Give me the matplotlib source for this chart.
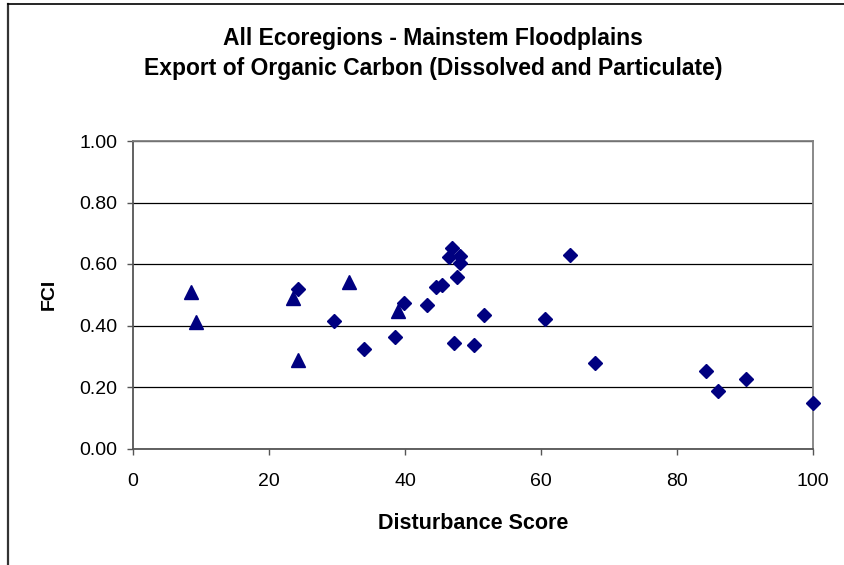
import matplotlib.pyplot as plt
from matplotlib.lines import Line2D

# Disturbance score vs FCI
diamond_x = [24.2, 29.5, 33.9, 38.6, 39.8, 43.3, 44.5, 45.4, 46.9, 46.5, 48.1, 48.1,
             47.7, 47.2, 50.1, 51.6, 60.6, 64.2, 67.9, 84.2, 86.0, 90.1, 100.0]
diamond_y = [0.518, 0.415, 0.324, 0.363, 0.474, 0.466, 0.524, 0.532, 0.651, 0.622, 0.626, 0.602,
             0.557, 0.342, 0.336, 0.433, 0.420, 0.629, 0.279, 0.252, 0.187, 0.226, 0.147]
triangle_x = [8.6, 9.2, 23.6, 31.8, 24.2, 38.9]
triangle_y = [0.510, 0.412, 0.488, 0.542, 0.288, 0.447]

x_ticks = [0, 20, 40, 60, 80, 100]
y_ticks = [0.0, 0.2, 0.4, 0.6, 0.8, 1.0]

title_lines = ["All Ecoregions - Mainstem Floodplains",
               "Export of Organic Carbon (Dissolved and Particulate)"]

plt.rcParams['font.family'] = ['Liberation Sans', 'DejaVu Sans']

fig = plt.figure(figsize=(8.44, 5.65), dpi=100)
ax = fig.add_axes([133 / 844, 1 - 448.5 / 565, 680 / 844, 307.5 / 565])

navy = '#000080'
ax.plot(diamond_x, diamond_y, linestyle='none', marker='D', ms=6.8,
        color=navy, zorder=3, clip_on=False)
ax.plot(triangle_x, triangle_y, linestyle='none', marker='^', ms=9.5,
        color=navy, zorder=4, clip_on=False)

ax.set_xlim(0, 100)
ax.set_ylim(0, 1)
ax.set_xticks(x_ticks)
ax.set_yticks(y_ticks)
ax.set_yticklabels([f"{v:.2f}" for v in y_ticks])
ax.tick_params(axis='both', labelsize=14, direction='out', length=4.5,
               color='#555555', width=1)
ax.tick_params(axis='y', pad=7)
ax.tick_params(axis='x', pad=13)

ax.yaxis.grid(True, color='black', linewidth=0.9)
ax.set_axisbelow(True)
for side in ['left', 'right', 'top', 'bottom']:
    ax.spines[side].set_color('#808080')
    ax.spines[side].set_linewidth(1.3)
ax.spines['left'].set_color('#555555')
ax.spines['bottom'].set_color('#555555')

ax.set_xlabel("Disturbance Score", fontsize=15.5, fontweight='bold', labelpad=17)
ax.set_ylabel("FCI", fontsize=14, fontweight='bold', labelpad=15.5)

fig.text(433 / 844, 1 - 38 / 565, title_lines[0], ha='center', va='center',
         fontsize=16.5, fontweight='bold')
fig.text(433 / 844, 1 - 68.5 / 565, title_lines[1], ha='center', va='center',
         fontsize=16.5, fontweight='bold')

# outer chart frame (only left and top edges are visible)
fig.add_artist(Line2D([7.5 / 844, 7.5 / 844], [0, 1 - 3.5 / 565],
                      transform=fig.transFigure, color='#333333', linewidth=1.6))
fig.add_artist(Line2D([7.5 / 844, 1], [1 - 3.5 / 565, 1 - 3.5 / 565],
                      transform=fig.transFigure, color='black', linewidth=1.2))

fig.savefig("out.png", dpi=100)
